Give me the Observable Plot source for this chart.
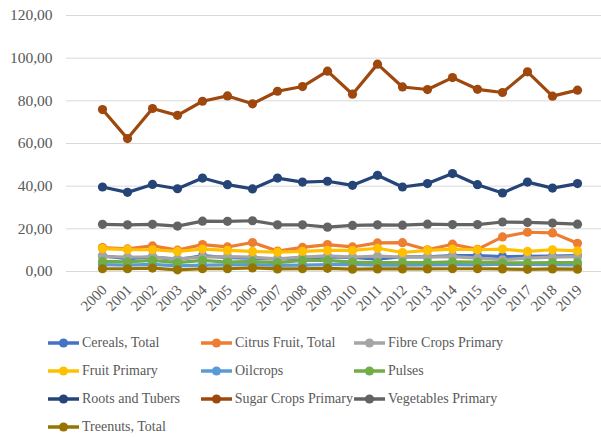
<!DOCTYPE html>
<html>
<head>
<meta charset="utf-8">
<script src="https://cdn.jsdelivr.net/npm/d3@7"></script>
<script src="https://cdn.jsdelivr.net/npm/@observablehq/plot@0.6"></script>
<style>
  html, body { margin: 0; padding: 0; background: #ffffff; }
  body { width: 601px; height: 437px; overflow: hidden; font-family: "Liberation Serif", Tinos, "Times New Roman", Times, "Nimbus Roman", "DejaVu Serif", serif; color: #595959; }
  #chart svg { display: block; }
  .legend { display: grid; grid-template-columns: 153px 153px 153px; padding-left: 47px; }
  .legend .item { display: flex; align-items: center; height: 28px; font-size: 14px; white-space: nowrap; }
  .legend svg { display: block; margin-right: 2px; }
</style>
</head>
<body>
<div id="chart"></div>
<div class="legend" id="legend"></div>
<script>
// Years on the x axis
const years = [2000, 2001, 2002, 2003, 2004, 2005, 2006, 2007, 2008, 2009,
               2010, 2011, 2012, 2013, 2014, 2015, 2016, 2017, 2018, 2019];

// One array of yearly values per crop group
const cereals    = [7.3, 6.0, 6.9, 5.6, 7.4, 6.5, 6.2, 5.9, 6.3, 6.9, 6.6, 5.8, 6.9, 6.9, 7.4, 7.5, 7.0, 7.1, 7.2, 7.4];
const citrus     = [11.2, 10.6, 12.0, 10.0, 12.6, 11.5, 13.6, 9.6, 11.3, 12.6, 11.5, 13.4, 13.5, 10.2, 12.8, 10.4, 16.2, 18.4, 18.1, 13.2];
const fibre      = [7.0, 6.8, 6.8, 5.9, 6.8, 7.0, 6.7, 5.9, 6.7, 7.3, 6.8, 7.2, 6.8, 6.8, 7.0, 6.3, 5.5, 6.3, 6.7, 7.0];
const fruit      = [10.7, 10.3, 10.2, 9.4, 10.5, 9.9, 9.4, 9.1, 9.4, 9.9, 9.9, 10.9, 8.9, 9.9, 10.5, 10.2, 10.5, 9.4, 10.2, 9.7];
const oilcrops   = [3.2, 3.0, 3.3, 2.6, 3.0, 3.1, 3.2, 2.9, 3.0, 3.2, 3.3, 3.0, 3.0, 3.1, 3.2, 3.1, 3.4, 3.3, 3.2, 3.1];
const pulses     = [4.7, 4.5, 5.2, 4.2, 5.2, 4.4, 4.7, 4.2, 5.2, 5.2, 4.4, 4.2, 4.2, 4.2, 4.5, 4.4, 4.0, 4.0, 4.2, 4.2];
const roots      = [39.6, 37.1, 40.8, 38.8, 43.8, 40.7, 38.7, 43.8, 41.9, 42.3, 40.4, 45.1, 39.6, 41.2, 45.9, 40.7, 36.8, 41.9, 39.1, 41.2];
const sugar      = [75.9, 62.3, 76.4, 73.2, 79.8, 82.3, 78.6, 84.5, 86.7, 93.9, 83.1, 97.2, 86.5, 85.3, 90.9, 85.4, 83.9, 93.6, 82.2, 85.0];
const vegetables = [22.1, 21.9, 22.1, 21.3, 23.6, 23.5, 23.8, 21.9, 21.9, 20.8, 21.6, 21.9, 21.7, 22.2, 22.0, 22.0, 23.2, 23.0, 22.7, 22.2];
const treenuts   = [1.3, 1.3, 1.6, 0.8, 1.3, 1.3, 1.7, 1.2, 1.3, 1.5, 1.1, 1.2, 1.2, 1.2, 1.3, 1.3, 1.2, 1.0, 1.2, 1.1];

// Series names, in drawing and legend order
const seriesNames = ["Cereals, Total", "Citrus Fruit, Total", "Fibre Crops Primary",
                     "Fruit Primary", "Oilcrops", "Pulses",
                     "Roots and Tubers", "Sugar Crops Primary", "Vegetables Primary",
                     "Treenuts, Total"];
const seriesValues = [cereals, citrus, fibre, fruit, oilcrops, pulses, roots, sugar, vegetables, treenuts];
const seriesColors = ["#4472C4", "#ED7D31", "#A5A5A5", "#FFC000", "#5B9BD5", "#70AD47",
                      "#264478", "#9E480E", "#636363", "#997300"];

// Y axis ticks
const yTicks = [0, 20, 40, 60, 80, 100, 120];

// Long-format table built from the arrays above
const rows = seriesNames.flatMap((name, i) =>
  seriesValues[i].map((v, j) => ({series: name, year: years[j], value: v})));

const fmt = d => d.toFixed(2).replace(".", ",");
const font = '"Liberation Serif", Tinos, "Times New Roman", Times, "Nimbus Roman", "DejaVu Serif", serif';

const seriesMarks = seriesNames.flatMap(name => {
  const data = rows.filter(r => r.series === name);
  return [
    Plot.line(data, {x: "year", y: "value", stroke: "series", strokeWidth: 3.2, strokeLinejoin: "round", strokeLinecap: "round"}),
    Plot.dot(data, {x: "year", y: "value", fill: "series", r: 4.6, stroke: null})
  ];
});

const chart = Plot.plot({
  width: 601,
  height: 329,
  marginTop: 15,
  marginBottom: 58,
  marginLeft: 66,
  marginRight: 0,
  style: {fontFamily: font, color: "#595959", background: "#ffffff", overflow: "visible"},
  x: {type: "point", domain: years, range: [79.3, 599], axis: null},
  y: {domain: [0, 120], range: [271, 15], axis: null},
  color: {domain: seriesNames, range: seriesColors},
  marks: [
    Plot.ruleY(yTicks, {stroke: "#D9D9D9", strokeWidth: 1}),
    Plot.text(yTicks, {y: d => d, text: fmt, frameAnchor: "left", textAnchor: "end", dx: -14,
                       fontSize: 15.5, fontFamily: font, fill: "#595959"}),
    Plot.text(years, {x: d => d, text: d => String(d), frameAnchor: "bottom", rotate: -45,
                      textAnchor: "end", lineAnchor: "middle", dx: 2, dy: 16,
                      fontSize: 15, fontFamily: font, fill: "#595959"}),
    ...seriesMarks
  ]
});
document.getElementById("chart").appendChild(chart);

// Legend: line-with-marker swatch followed by the series name
const legend = d3.select("#legend");
seriesNames.forEach((name, i) => {
  const item = legend.append("div").attr("class", "item");
  const sw = item.append("svg").attr("width", 33).attr("height", 12);
  sw.append("line").attr("x1", 1).attr("x2", 32).attr("y1", 6).attr("y2", 6)
    .attr("stroke", seriesColors[i]).attr("stroke-width", 3.5);
  sw.append("circle").attr("cx", 16.5).attr("cy", 6).attr("r", 4.6).attr("fill", seriesColors[i]);
  item.append("span").text(name);
});
</script>
</body>
</html>
